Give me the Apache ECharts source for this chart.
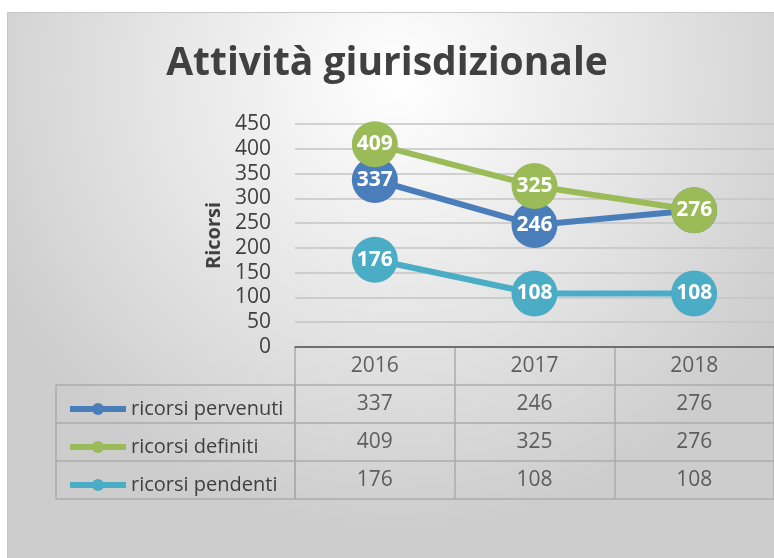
<!DOCTYPE html>
<html>
<head>
<meta charset="utf-8">
<script src="https://cdn.jsdelivr.net/npm/echarts@6/dist/echarts.min.js"></script>
<style>
  html, body { margin: 0; padding: 0; background: #fff; }
  #chart { width: 774px; height: 558px; }
</style>
</head>
<body>
<div id="chart"></div>
<script>
// dati
const years = ['2016', '2017', '2018'];
const seriesNames = ['ricorsi pervenuti', 'ricorsi definiti', 'ricorsi pendenti'];
const pervenuti = [337, 246, 276];
const definiti = [409, 325, 276];
const pendenti = [176, 108, 108];
const yTicks = { min: 0, max: 450, step: 50 };

const colors = ['#4a7ebb', '#9bbb59', '#4bacc6'];
const values = [pervenuti, definiti, pendenti];
const font = 'Open Sans';
const textColor = '#404040';

// celle della tabella dati: [colonna, riga, testo]
const headerCells = years.map((y, j) => [j, 0.5, y]);
const bodyCells = [];
values.forEach((v, i) => v.forEach((n, j) => bodyCells.push([j, i + 1.5, n])));

const chart = echarts.init(document.getElementById('chart'));

const lineSeries = values.map((v, i) => ({
  name: seriesNames[i],
  type: 'line',
  xAxisIndex: 0,
  yAxisIndex: 0,
  data: v,
  color: colors[i],
  symbol: 'circle',
  symbolSize: 46,
  lineStyle: { width: 6 },
  label: {
    show: true,
    position: 'inside',
    color: '#fff',
    fontFamily: font,
    fontWeight: 'bold',
    fontSize: 21
  },
  emphasis: { disabled: true },
  z: 3 + i
}));

const option = {
  animation: false,
  graphic: [{
    type: 'rect',
    left: 7,
    top: 12,
    z: -10,
    shape: { width: 780, height: 560 },
    style: {
      fill: {
        type: 'radial', x: 0.5, y: 0.12, r: 0.8,
        colorStops: [{ offset: 0, color: '#ffffff' }, { offset: 0.6, color: '#e2e2e2' }, { offset: 1, color: '#cdcdcd' }]
      },
      stroke: '#c8c8c8',
      lineWidth: 1
    }
  }],
  title: {
    text: 'Attività giurisdizionale',
    left: 'center',
    top: 39,
    textStyle: { fontFamily: font, fontWeight: 'bold', fontSize: 39, color: textColor }
  },
  legend: {
    orient: 'vertical',
    left: 62,
    top: 393,
    itemWidth: 56,
    itemHeight: 15,
    itemGap: 16,
    data: seriesNames,
    lineStyle: { width: 6 },
    textStyle: { fontFamily: font, fontSize: 20, color: textColor, lineHeight: 22 },
    selectedMode: false
  },
  grid: [
    { left: 295, top: 124, width: 483, height: 223 },
    { left: 295, top: 347, width: 483, height: 152 },
    { left: 56, top: 385, width: 239, height: 114 }
  ],
  xAxis: [
    {
      gridIndex: 0, type: 'category', data: years, boundaryGap: true,
      axisLabel: { show: false }, axisTick: { show: false },
      axisLine: { lineStyle: { color: '#595959', width: 1.5 } }
    },
    {
      gridIndex: 1, type: 'category', data: years, boundaryGap: true,
      axisLabel: { show: false }, axisTick: { show: false }, axisLine: { show: false },
      splitLine: { show: true, lineStyle: { color: '#ababab', width: 1.5 } }
    },
    {
      gridIndex: 2, type: 'value', min: 0, max: 1, interval: 1,
      axisLabel: { show: false }, axisTick: { show: false }, axisLine: { show: false },
      splitLine: { show: true, lineStyle: { color: '#ababab', width: 1.5 } }
    }
  ],
  yAxis: [
    {
      gridIndex: 0, type: 'value', min: yTicks.min, max: yTicks.max, interval: yTicks.step,
      name: 'Ricorsi', nameLocation: 'middle', nameGap: 68, nameRotate: 90,
      nameTextStyle: { fontFamily: font, fontWeight: 'bold', fontSize: 20, color: textColor },
      axisLabel: { fontFamily: font, fontSize: 21, color: textColor, margin: 24 },
      axisLine: { show: false }, axisTick: { show: false },
      splitLine: { lineStyle: { color: '#c4c4c4', width: 1.5 } }
    },
    {
      gridIndex: 1, type: 'value', min: 0, max: 4, interval: 1, inverse: true,
      axisLabel: { show: false }, axisTick: { show: false }, axisLine: { show: false },
      splitLine: { show: true, lineStyle: { color: '#ababab', width: 1.5 } }
    },
    {
      gridIndex: 2, type: 'value', min: 0, max: 3, interval: 1,
      axisLabel: { show: false }, axisTick: { show: false }, axisLine: { show: false },
      splitLine: { show: true, lineStyle: { color: '#ababab', width: 1.5 } }
    }
  ],
  series: lineSeries.concat([{
    type: 'scatter',
    xAxisIndex: 1,
    yAxisIndex: 1,
    data: headerCells.concat(bodyCells),
    symbolSize: 1,
    itemStyle: { color: 'rgba(0,0,0,0)' },
    silent: true,
    label: {
      show: true,
      position: 'inside',
      formatter: p => p.value[2],
      fontFamily: font,
      fontSize: 21,
      color: textColor
    }
  }])
};

chart.setOption(option);
</script>
</body>
</html>
